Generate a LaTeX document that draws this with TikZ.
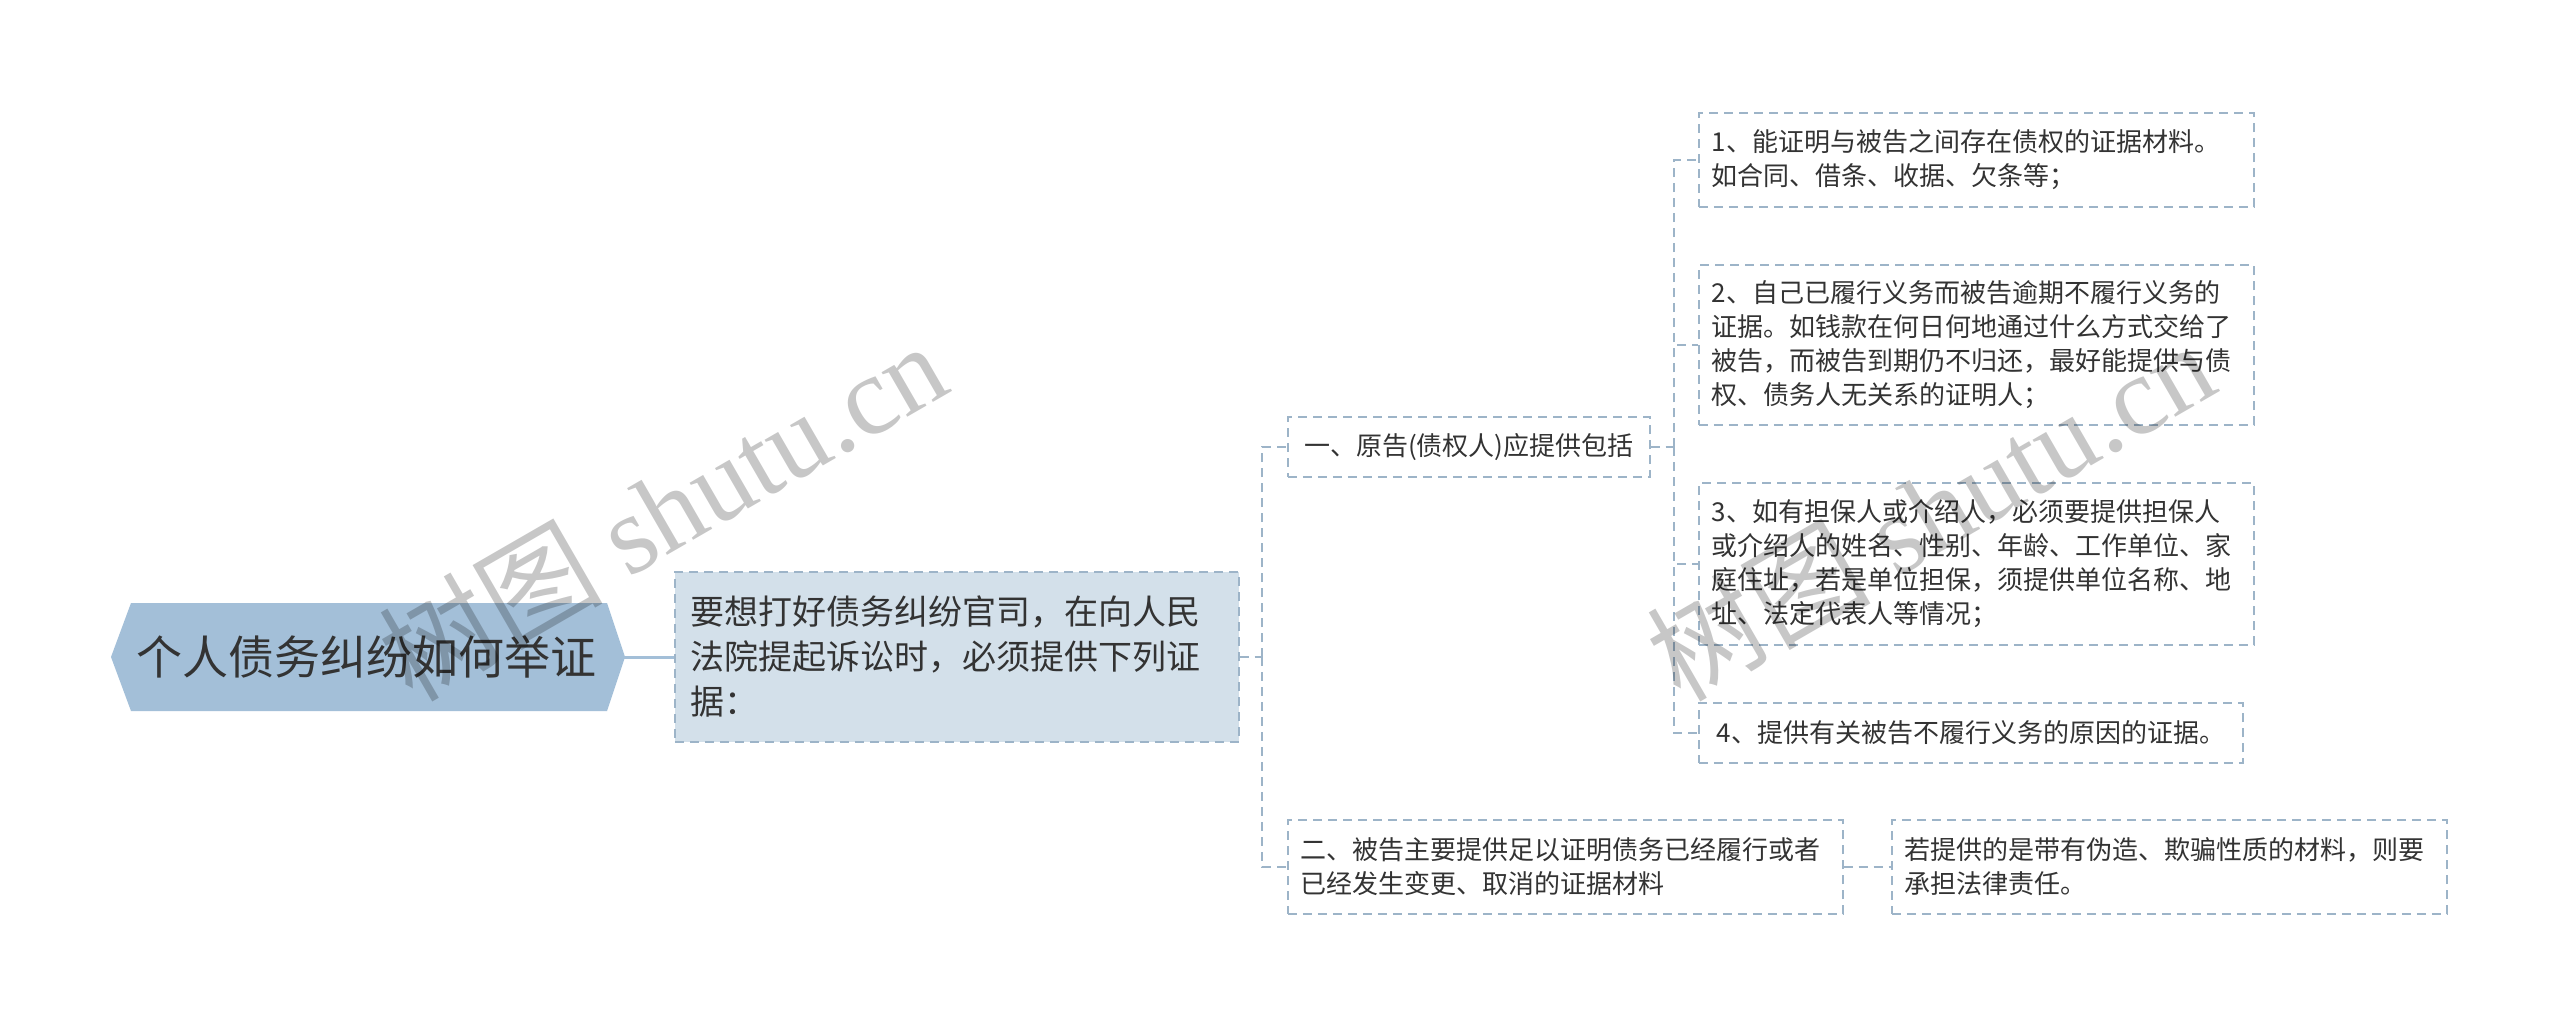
\documentclass[tikz,border=0pt]{standalone}
\usepackage{fontspec}
\setmainfont{Noto Sans CJK SC}
\newfontfamily\cjk{Noto Sans CJK SC}
\newfontfamily\wmserif{Liberation Serif}
\usetikzlibrary{calc}
\definecolor{rootfill}{HTML}{A3BFD8}
\definecolor{mainfill}{HTML}{D3E0EA}
\definecolor{edgec}{HTML}{9DB4C8}
\definecolor{txt}{HTML}{333333}
\begin{document}
\begin{tikzpicture}[x=1pt,y=-1pt,
  box/.style={draw=edgec, line width=1.6pt, dash pattern=on 9pt off 6pt, fill=white, anchor=west, align=left, inner xsep=13pt, inner ysep=0pt, text=txt, font=\fontsize{26}{34}\selectfont},
  conn/.style={draw=edgec, line width=1.6pt, dash pattern=on 9pt off 6pt},
  wm/.style={rotate=30, text=black, opacity=0.22, inner sep=0pt, font=\fontsize{112}{120}\selectfont}
]
\useasboundingbox (0,0) rectangle (2560,1028);
\fill[white] (0,0) rectangle (2560,1028);
% root hexagon
\fill[rootfill] (111,657) -- (131,603) -- (607,603) -- (625,657) -- (607,711) -- (131,711) -- cycle;
\node[inner sep=0pt, minimum width=514pt, minimum height=108pt, font=\fontsize{46}{52}\selectfont, text=txt] (root) at (366,657) {个人债务纠纷如何举证};
% main box
\node[box, fill=mainfill, text width=532pt, inner xsep=16pt, minimum height=170pt, font=\fontsize{34}{45}\selectfont] (main) at (674,657) {要想打好债务纠纷官司，在向人民\\法院提起诉讼时，必须提供下列证\\据：};
% level 2
\node[box, minimum width=362pt, minimum height=60pt] (A) at (1287,447) {一、原告(债权人)应提供包括};
\node[box, text width=529pt, minimum height=94pt] (B) at (1287,867) {二、被告主要提供足以证明债务已经履行或者\\已经发生变更、取消的证据材料};
% level 3
\node[box, text width=529pt, minimum height=94pt] (i1) at (1698,160) {1、能证明与被告之间存在债权的证据材料。\\如合同、借条、收据、欠条等；};
\node[box, text width=529pt, minimum height=160pt] (i2) at (1698,345) {2、自己已履行义务而被告逾期不履行义务的\\证据。如钱款在何日何地通过什么方式交给了\\被告，而被告到期仍不归还，最好能提供与债\\权、债务人无关系的证明人；};
\node[box, text width=529pt, minimum height=162pt] (i3) at (1698,564) {3、如有担保人或介绍人，必须要提供担保人\\或介绍人的姓名、性别、年龄、工作单位、家\\庭住址，若是单位担保，须提供单位名称、地\\址、法定代表人等情况；};
\node[box, minimum width=544pt, minimum height=60pt] (i4) at (1698,733) {4、提供有关被告不履行义务的原因的证据。};
\node[box, text width=529pt, minimum height=94pt] (C) at (1891,867) {若提供的是带有伪造、欺骗性质的材料，则要\\承担法律责任。};
% connectors
\draw[rootfill, line width=3pt] (root.east) -- (main.west);
\coordinate (t1) at (1262,657);
\coordinate (t2) at (1674,447);
\draw[conn] (main.east) -- (t1);
\draw[conn] (t1) |- (A.west);
\draw[conn] (t1) |- (B.west);
\draw[conn] (A.east) -- (t2);
\draw[conn] (t2) |- (i1.west);
\draw[conn] (t2) |- (i2.west);
\draw[conn] (t2) |- (i3.west);
\draw[conn] (t2) |- (i4.west);
\draw[conn] (B.east) -- (C.west);
% watermarks
\node[wm] (wm1) at (662,510) {{\cjk 树图} {\wmserif shutu.cn}};
\node[wm] (wm2) at (1930,510) {{\cjk 树图} {\wmserif shutu.cn}};
\end{tikzpicture}
\end{document}
